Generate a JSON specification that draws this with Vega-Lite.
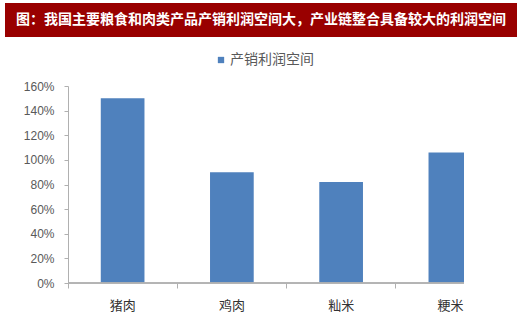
{
  "$schema": "https://vega.github.io/schema/vega-lite/v6.json",
  "padding": {"left": 5, "top": 3, "right": 0, "bottom": 0},
  "background": "white",
  "config": {"view": {"stroke": null}},
  "spacing": 16,
  "resolve": {"scale": {"color": "independent"}, "legend": {"color": "independent"}},
  "vconcat": [
    {
      "width": 512,
      "height": 34,
      "view": {"fill": "#990000", "stroke": null},
      "data": {"values": [{"t": "图：我国主要粮食和肉类产品产销利润空间大，产业链整合具备较大的利润空间"}]},
      "mark": {"type": "text", "color": "white", "fontSize": 14, "fontWeight": "bold", "font": "Noto Sans CJK SC", "align": "center", "baseline": "middle"},
      "encoding": {"text": {"field": "t", "type": "nominal"}}
    },
    {
      "width": 459,
      "height": 197,
      "data": {"values": [
        {"product": "猪肉", "value": 1.50, "series": "产销利润空间"},
        {"product": "鸡肉", "value": 0.90, "series": "产销利润空间"},
        {"product": "籼米", "value": 0.82, "series": "产销利润空间"},
        {"product": "粳米", "value": 1.06, "series": "产销利润空间"}
      ]},
      "layer": [
        {
          "mark": {"type": "bar", "clip": true, "width": {"band": 0.4}},
          "encoding": {
            "x": {
              "field": "product", "type": "nominal", "sort": null,
              "scale": {"range": [63, 500], "paddingInner": 0, "paddingOuter": 0},
              "axis": {"title": null, "domain": false, "bandPosition": 0, "tickSize": 5, "tickColor": "#B0B0B0", "labelFontSize": 13, "labelFont": "Noto Sans CJK SC", "labelColor": "#333333", "labelPadding": 11, "labelAngle": 0}
            },
            "y": {
              "field": "value", "type": "quantitative",
              "scale": {"domain": [0, 1.6], "nice": false},
              "axis": {"title": null, "offset": -63, "values": [0, 0.2, 0.4, 0.6, 0.8, 1.0, 1.2, 1.4, 1.6], "format": ".0%", "grid": false, "labelOverlap": false, "domainColor": "#B0B0B0", "tickColor": "#B0B0B0", "tickSize": 4, "labelPadding": 10, "labelFontSize": 12, "labelFont": "Liberation Sans", "labelColor": "#595959"}
            },
            "color": {
              "field": "series", "type": "nominal",
              "scale": {"range": ["#4F81BD"]},
              "legend": {"title": null, "orient": "none", "legendX": 209, "legendY": -33, "symbolType": "square", "symbolSize": 40, "symbolStrokeWidth": 0, "labelFontSize": 14, "labelFont": "Noto Sans CJK SC", "labelColor": "#595959", "labelOffset": 2}
            }
          }
        },
        {
          "mark": {"type": "rule", "color": "#B0B0B0"},
          "encoding": {
            "x": {"datum": "猪肉", "type": "nominal", "bandPosition": 0},
            "x2": {"value": "width"},
            "y": {"datum": 0, "type": "quantitative", "axis": {"title": null, "offset": -63, "values": [0, 0.2, 0.4, 0.6, 0.8, 1.0, 1.2, 1.4, 1.6], "format": ".0%", "grid": false, "labelOverlap": false, "domainColor": "#B0B0B0", "tickColor": "#B0B0B0", "tickSize": 4, "labelPadding": 10, "labelFontSize": 12, "labelFont": "Liberation Sans", "labelColor": "#595959"}}
          }
        }
      ]
    }
  ]
}
